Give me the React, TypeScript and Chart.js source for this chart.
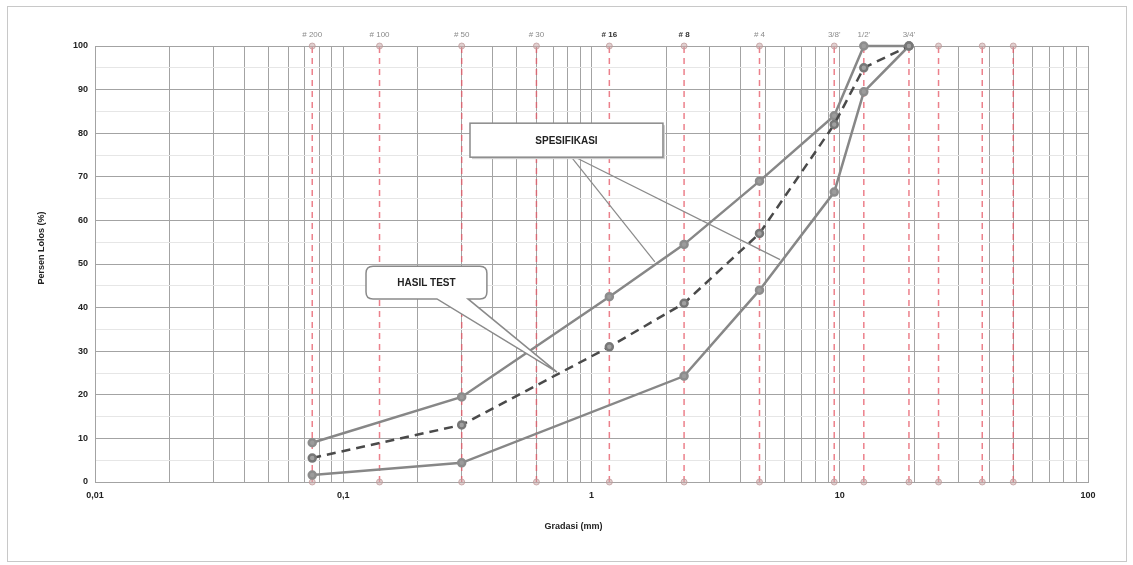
import React, { useEffect, useRef } from "react";
import { Chart, registerables } from "chart.js";

Chart.register(...registerables);

// ---- data -------------------------------------------------------------
const sieveSizes = [0.075, 0.14, 0.3, 0.6, 1.18, 2.36, 4.75, 9.5, 12.5, 19, 25, 37.5, 50];
const sieveLabels = ["# 200", "# 100", "# 50", "# 30", "# 16", "# 8", "# 4", "3/8'", "1/2'", "3/4'", "", "", ""];
const sieveBold = ["# 16", "# 8"];

const upperSizes = [0.075, 0.3, 1.18, 2.36, 4.75, 9.5, 12.5, 19];
const specUpper = [9, 19.5, 42.5, 54.5, 69, 84, 100, 100];
const lowerSizes = [0.075, 0.3, 2.36, 4.75, 9.5, 12.5, 19];
const specLower = [1.6, 4.4, 24.3, 44, 66.5, 89.5, 100];
const testSizes = [0.075, 0.3, 1.18, 2.36, 4.75, 9.5, 12.5, 19];
const testResult = [5.5, 13.1, 31, 41, 57, 82, 95, 100];

const yTickValues = [0, 10, 20, 30, 40, 50, 60, 70, 80, 90, 100];
const xTickLabels: Record<string, string> = { "0.01": "0,01", "0.1": "0,1", "1": "1", "10": "10", "100": "100" };

const yAxisTitle = "Persen Lolos (%)";
const xAxisTitle = "Gradasi (mm)";
const specCalloutText = "SPESIFIKASI";
const testCalloutText = "HASIL TEST";

// annotation anchors (data space)
const specBox = { xMin: 0.324, xMax: 1.94, yMin: 74.5, yMax: 82.3 };
const specPointers = [
  { fx: 0.83, fy: 74.5, tx: 1.8, ty: 50.5 },
  { fx: 0.86, fy: 74.5, tx: 5.75, ty: 51 },
];
const testBox = { xMin: 0.1235, xMax: 0.379, yMin: 42, yMax: 49.5 };
const testPointer = { b1: 0.2385, b2: 0.318, tx: 0.726, ty: 25.2 };

// log grid values 0.01 .. 100
const xGridValues: number[] = [];
for (let e = -2; e <= 1; e++) {
  for (let m = 1; m <= 9; m++) xGridValues.push(Number((m * Math.pow(10, e)).toPrecision(3)));
}
xGridValues.push(100);

const FONT = "'Liberation Sans', Arial, sans-serif";

const decorPlugin = {
  id: "decor",
  beforeDraw(chart: any) {
    const ctx = chart.ctx;
    ctx.save();
    ctx.fillStyle = "#ffffff";
    ctx.fillRect(0, 0, chart.width, chart.height);
    ctx.strokeStyle = "#c8c8c8";
    ctx.lineWidth = 1;
    ctx.strokeRect(7.5, 6.5, chart.width - 14, chart.height - 10);
    ctx.restore();
  },
  afterDraw(chart: any) {
    const ctx = chart.ctx;
    const xs = chart.scales.x;
    const ys = chart.scales.y;
    const area = chart.chartArea;
    ctx.save();

    // sieve labels on top
    ctx.textAlign = "center";
    ctx.textBaseline = "middle";
    sieveSizes.forEach((s, i) => {
      const lbl = sieveLabels[i];
      if (!lbl) return;
      const bold = sieveBold.includes(lbl);
      ctx.font = `${bold ? "bold " : ""}8px ${FONT}`;
      ctx.fillStyle = bold ? "#333" : "#8a8a8a";
      ctx.fillText(lbl, xs.getPixelForValue(s), area.top - 11);
    });

    // axis titles
    ctx.fillStyle = "#222";
    ctx.font = `bold 9px ${FONT}`;
    ctx.fillText(xAxisTitle, (area.left + area.right) / 2 - 18, chart.height - 38);
    ctx.save();
    ctx.translate(42, (area.top + area.bottom) / 2 - 16);
    ctx.rotate(-Math.PI / 2);
    ctx.fillText(yAxisTitle, 0, 0);
    ctx.restore();

    // SPESIFIKASI callout
    const sx1 = xs.getPixelForValue(specBox.xMin), sx2 = xs.getPixelForValue(specBox.xMax);
    const sy1 = ys.getPixelForValue(specBox.yMax), sy2 = ys.getPixelForValue(specBox.yMin);
    ctx.strokeStyle = "#8a8a8a";
    ctx.lineWidth = 1.2;
    specPointers.forEach((p) => {
      ctx.beginPath();
      ctx.moveTo(xs.getPixelForValue(p.fx), ys.getPixelForValue(p.fy));
      ctx.lineTo(xs.getPixelForValue(p.tx), ys.getPixelForValue(p.ty));
      ctx.stroke();
    });
    ctx.fillStyle = "#d0d0d0";
    ctx.fillRect(sx1 + 2, sy1 + 2, sx2 - sx1, sy2 - sy1);
    ctx.fillStyle = "#ffffff";
    ctx.fillRect(sx1, sy1, sx2 - sx1, sy2 - sy1);
    ctx.lineWidth = 1.5;
    ctx.strokeStyle = "#8a8a8a";
    ctx.strokeRect(sx1, sy1, sx2 - sx1, sy2 - sy1);
    ctx.fillStyle = "#222";
    ctx.font = `bold 10px ${FONT}`;
    ctx.fillText(specCalloutText, (sx1 + sx2) / 2, (sy1 + sy2) / 2 + 1);

    // HASIL TEST callout
    const hx1 = xs.getPixelForValue(testBox.xMin), hx2 = xs.getPixelForValue(testBox.xMax);
    const hy1 = ys.getPixelForValue(testBox.yMax), hy2 = ys.getPixelForValue(testBox.yMin);
    const b1 = xs.getPixelForValue(testPointer.b1), b2 = xs.getPixelForValue(testPointer.b2);
    const tx = xs.getPixelForValue(testPointer.tx), ty = ys.getPixelForValue(testPointer.ty);
    const r = 7;
    ctx.beginPath();
    ctx.moveTo(hx1 + r, hy1);
    ctx.lineTo(hx2 - r, hy1);
    ctx.quadraticCurveTo(hx2, hy1, hx2, hy1 + r);
    ctx.lineTo(hx2, hy2 - r);
    ctx.quadraticCurveTo(hx2, hy2, hx2 - r, hy2);
    ctx.lineTo(b2, hy2);
    ctx.lineTo(tx, ty);
    ctx.lineTo(b1, hy2);
    ctx.lineTo(hx1 + r, hy2);
    ctx.quadraticCurveTo(hx1, hy2, hx1, hy2 - r);
    ctx.lineTo(hx1, hy1 + r);
    ctx.quadraticCurveTo(hx1, hy1, hx1 + r, hy1);
    ctx.closePath();
    ctx.fillStyle = "#ffffff";
    ctx.fill();
    ctx.lineWidth = 1.5;
    ctx.strokeStyle = "#8a8a8a";
    ctx.stroke();
    ctx.fillStyle = "#222";
    ctx.font = `bold 10px ${FONT}`;
    ctx.fillText(testCalloutText, (hx1 + hx2) / 2, (hy1 + hy2) / 2 + 1);

    ctx.restore();
  },
};

export default function App() {
  const canvasRef = useRef<HTMLCanvasElement | null>(null);

  useEffect(() => {
    if (!canvasRef.current) return;

    const toXY = (xsArr: number[], ysArr: number[]) => xsArr.map((x, i) => ({ x, y: ysArr[i] }));

    const sieveDatasets = sieveSizes.map((s) => ({
      label: "sieve " + s,
      data: [
        { x: s, y: 0 },
        { x: s, y: 100 },
      ],
      showLine: true,
      borderColor: "rgba(230, 85, 100, 0.75)",
      borderWidth: 1.5,
      borderDash: [6, 5],
      pointRadius: 3,
      pointBackgroundColor: "rgba(200, 170, 170, 0.55)",
      pointBorderColor: "rgba(190, 150, 150, 0.7)",
      pointBorderWidth: 1,
      clip: false,
      order: 10,
    }));

    const chart = new Chart(canvasRef.current, {
      type: "scatter",
      data: {
        datasets: [
          {
            label: "Spesifikasi atas",
            data: toXY(upperSizes, specUpper),
            showLine: true,
            borderColor: "#878787",
            borderWidth: 2.5,
            pointRadius: 3.5,
            pointBackgroundColor: "#9c9c9c",
            pointBorderColor: "#8c8c8c",
            clip: false,
            order: 1,
          },
          {
            label: "Spesifikasi bawah",
            data: toXY(lowerSizes, specLower),
            showLine: true,
            borderColor: "#878787",
            borderWidth: 2.5,
            pointRadius: 3.5,
            pointBackgroundColor: "#9c9c9c",
            pointBorderColor: "#8c8c8c",
            clip: false,
            order: 1,
          },
          {
            label: "Hasil test",
            data: toXY(testSizes, testResult),
            showLine: true,
            borderColor: "#4a4a4a",
            borderWidth: 2.5,
            borderDash: [9, 6],
            pointRadius: 3.5,
            pointBackgroundColor: "#a0a0a0",
            pointBorderColor: "#777",
            clip: false,
            order: 0,
          },
          ...sieveDatasets,
        ] as any,
      },
      options: {
        responsive: false,
        animation: false,
        layout: { padding: { left: 0, top: 46, right: 45, bottom: 0 } },
        plugins: { legend: { display: false }, tooltip: { enabled: false } },
        scales: {
          x: {
            type: "logarithmic",
            min: 0.01,
            max: 100,
            afterBuildTicks: (scale: any) => {
              scale.ticks = xGridValues.map((v) => ({ value: v }));
            },
            afterFit: (scale: any) => {
              scale.height = 83;
            },
            grid: { color: "#a3a3a3", lineWidth: 1, drawTicks: false },
            border: { display: true, color: "#a3a3a3" },
            ticks: {
              autoSkip: false,
              maxRotation: 0,
              padding: 8,
              color: "#222",
              font: { family: FONT, size: 9, weight: "bold" },
              callback: (v: any) => xTickLabels[String(Number(v))] ?? "",
            },
          },
          y: {
            min: 0,
            max: 100,
            afterBuildTicks: (scale: any) => {
              const t: any[] = [];
              for (let v = 0; v <= 100; v += 5) t.push({ value: v });
              scale.ticks = t;
            },
            afterFit: (scale: any) => {
              scale.width = 95;
            },
            grid: {
              color: (c: any) => (c.tick && c.tick.value % 10 === 0 ? "#a3a3a3" : "#e6e6e6"),
              lineWidth: 1,
              drawTicks: false,
            },
            border: { display: true, color: "#a3a3a3" },
            ticks: {
              autoSkip: false,
              padding: 7,
              color: "#222",
              font: { family: FONT, size: 9, weight: "bold" },
              callback: (v: any) => (yTickValues.includes(Number(v)) ? String(v) : ""),
            },
          },
        },
      } as any,
      plugins: [decorPlugin],
    });

    return () => chart.destroy();
  }, []);

  return (
    <div style={{ position: "fixed", left: 0, top: 0, width: 1133, height: 565, background: "#fff" }}>
      <canvas ref={canvasRef} width={1133} height={565} />
    </div>
  );
}
